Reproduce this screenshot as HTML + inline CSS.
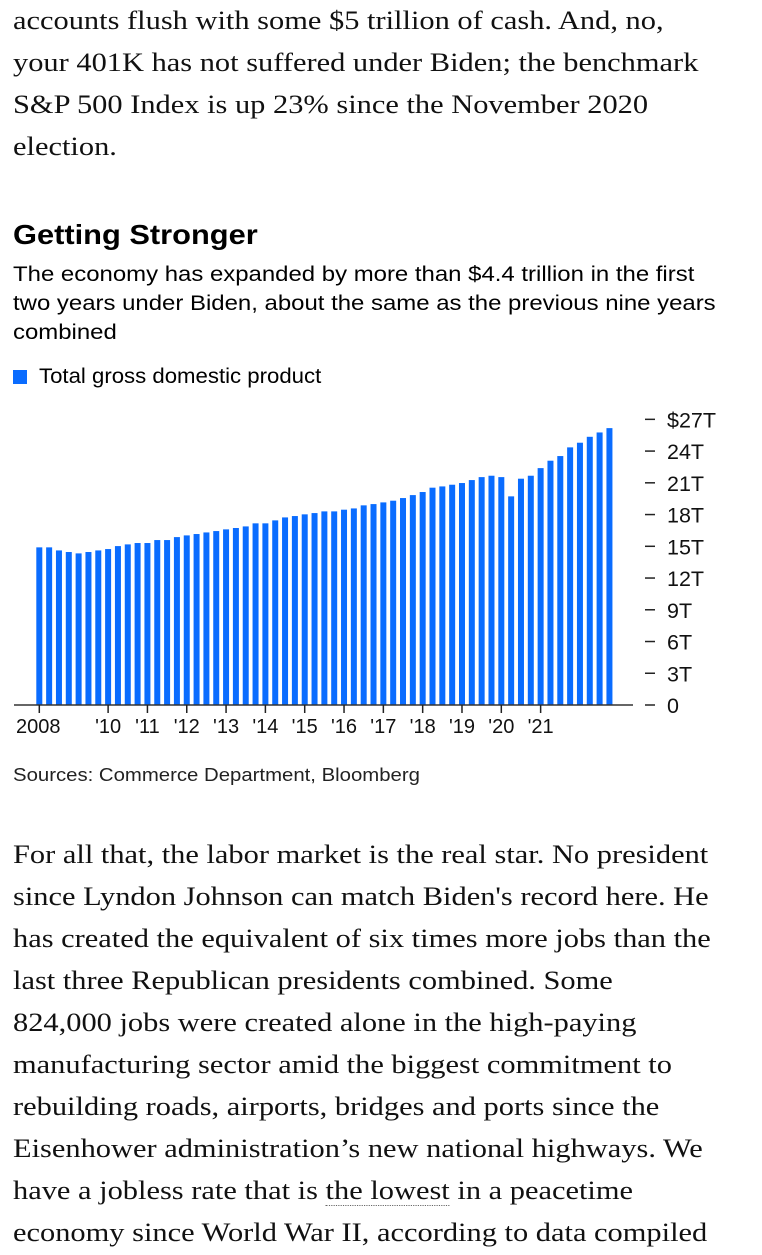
<!DOCTYPE html>
<html><head><meta charset="utf-8"><style>
body{margin:0;width:762px;height:1255px;overflow:hidden;background:#fff;position:relative;font-family:"Liberation Sans",sans-serif;color:#000}
.p{position:absolute;left:13px;font-family:"Liberation Serif",serif;font-size:26px;line-height:42px;color:#111;white-space:nowrap;transform:scaleX(1.17);transform-origin:0 0}
.s{position:absolute;left:13px;white-space:nowrap;transform-origin:0 0}
</style></head><body>
<div class="p" style="top:0px">accounts flush with some $5 trillion of cash. And, no,<br>your 401K has not suffered under Biden; the benchmark<br>S&amp;P 500 Index is up 23% since the November 2020<br>election.</div>
<div class="s" style="top:219px;font-size:28px;font-weight:bold;transform:scaleX(1.1)">Getting Stronger</div>
<div class="s" style="top:260px;font-size:21px;line-height:29px;transform:scaleX(1.14)">The economy has expanded by more than $4.4 trillion in the first<br>two years under Biden, about the same as the previous nine years<br>combined</div>
<div class="s" style="top:365px;font-size:21px"><span style="display:inline-block;width:14px;height:14px;background:#0a6cff;margin-right:12px;vertical-align:-1px"></span><span style="display:inline-block;transform:scaleX(1.056);transform-origin:0 0">Total gross domestic product</span></div>
<svg id="chart" style="position:absolute;left:0;top:400px" width="762" height="350"></svg>
<div class="s" style="top:765px;font-size:18px;color:#222;transform:scaleX(1.13)">Sources: Commerce Department, Bloomberg</div>
<div class="p" style="top:834px">For all that, the labor market is the real star. No president<br>since Lyndon Johnson can match Biden's record here. He<br>has created the equivalent of six times more jobs than the<br>last three Republican presidents combined. Some<br>824,000 jobs were created alone in the high-paying<br>manufacturing sector amid the biggest commitment to<br>rebuilding roads, airports, bridges and ports since the<br>Eisenhower administration’s new national highways. We<br>have a jobless rate that is <span style="border-bottom:1px dotted #666">the lowest</span> in a peacetime<br>economy since World War II, according to data compiled</div>
<script>
const gdpValues=[14.90,14.90,14.61,14.46,14.33,14.46,14.61,14.74,15.02,15.18,15.31,15.31,15.59,15.59,15.87,16.03,16.16,16.31,16.44,16.60,16.73,16.88,17.17,17.17,17.45,17.73,17.86,18.02,18.14,18.30,18.30,18.46,18.58,18.87,18.99,19.15,19.31,19.56,19.84,20.13,20.54,20.66,20.82,20.98,21.26,21.54,21.67,21.54,19.72,21.39,21.67,22.39,23.09,23.53,24.35,24.79,25.35,25.76,26.17];
const yTicks=[0,3,6,9,12,15,18,21,24,27];
const yTickLabels=["0","3T","6T","9T","12T","15T","18T","21T","24T","$27T"];
const xTickIndex=[0,7,11,15,19,23,27,31,35,39,43,47,51];
const xTickLabels=["2008","'10","'11","'12","'13","'14","'15","'16","'17","'18","'19","'20","'21"];
const svg=document.getElementById('chart');
const NS='http://www.w3.org/2000/svg';
const base=305, scale=10.58, x0=39.3, step=9.83;
const y=v=>base-v*scale, x=i=>x0+i*step;
function mk(t,a){const e=document.createElementNS(NS,t);for(const k in a)e.setAttribute(k,a[k]);svg.appendChild(e);return e;}
gdpValues.forEach((v,i)=>{
 const r=mk('rect',{x:x(i)-3,y:y(v),width:6,height:v*scale,fill:'#0a6cff'});
 
 
});
const ax=mk('line',{x1:14,x2:633,y1:base,y2:base,stroke:'#333','stroke-width':1.5});


yTicks.forEach((v,i)=>{
 mk('line',{x1:645,x2:655,y1:y(v),y2:y(v),stroke:'#222','stroke-width':1.5});
 const t=mk('text',{x:667,y:y(v)+8,'font-size':21.5,'font-family':'Liberation Sans, sans-serif',fill:'#111'});
 t.textContent=yTickLabels[i];
 
 
});
xTickIndex.forEach((idx,i)=>{
 mk('line',{x1:x(idx),x2:x(idx),y1:base,y2:base+8,stroke:'#222','stroke-width':1.5});
 const t=mk('text',{x:x(idx),y:base+28,'font-size':20,'text-anchor':'middle','font-family':'Liberation Sans, sans-serif',fill:'#111'});
 if(i===0)t.setAttribute('x',x(idx)-1);
 t.textContent=xTickLabels[i];
 
 
});
</script>
</body></html>
